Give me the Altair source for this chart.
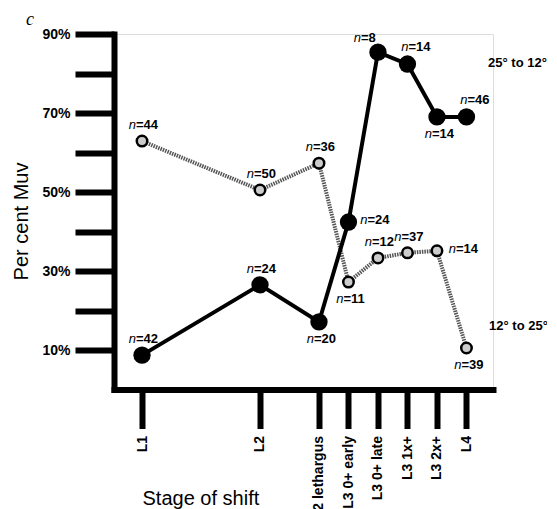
import json
import altair as alt
import pandas as pd

# ---- data ----
stages = ["L1", "L2", "L2 lethargus", "L3 0+ early", "L3 0+ late", "L3 1x+", "L3 2x+", "L4"]
stage_pos = [0, 4, 6, 7, 8, 9, 10, 11]          # developmental time-line position of each stage
series_names = ["25° to 12°", "12° to 25°"]

cold_pct = [8.7, 26.5, 17.1, 42.4, 85.4, 82.4, 69.0, 69.0]     # 25° to 12° (filled)
cold_n = [42, 24, 20, 24, 8, 14, 14, 46]
cold_place = ["above", "above", "below", "right", "aboveleft", "aboveright", "below", "aboveright"]

warm_pct = [62.9, 50.5, 57.3, 27.2, 33.3, 34.6, 35.1, 10.5]    # 12° to 25° (open)
warm_n = [44, 50, 36, 11, 12, 37, 14, 39]
warm_place = ["above", "above", "above", "below", "above", "above", "right", "below"]

y_ticks = [10, 20, 30, 40, 50, 60, 70, 80, 90]

rows = []
for name, pct, ns, pl in [(series_names[0], cold_pct, cold_n, cold_place),
                          (series_names[1], warm_pct, warm_n, warm_place)]:
    for s, p, v, n, q in zip(stages, stage_pos, pct, ns, pl):
        rows.append({"stage": s, "pos": p, "pct": v, "n": n, "eq": f"={n}",
                     "series": name, "place": q})
df = pd.DataFrame(rows)

FONT = "Liberation Sans"

xaxis = alt.Axis(
    values=stage_pos,
    labelExpr=f"{json.dumps(stages)}[indexof({json.dumps(stage_pos)}, datum.value)]",
    labelAngle=270, labelFont=FONT, labelFontSize=14, labelFontWeight="bold",
    labelColor="black", labelPadding=7, labelOverlap=False, labelFlush=False,
    tickSize=39, tickWidth=6, tickColor="black",
    domainColor="black", domainWidth=6, domainCap="square", grid=False,
    title="Stage of shift", titleFont=FONT, titleFontSize=20, titleFontWeight="normal",
    titleColor="black", titleX=28, titleY=114.5, titleAlign="left",
    titleBaseline="alphabetic",
)
yaxis = alt.Axis(
    values=y_ticks,
    labelExpr="datum.value % 20 == 10 ? datum.value + '%' : ''",
    labelFont=FONT, labelFontSize=14, labelFontWeight="bold", labelColor="black",
    labelPadding=5, tickSize=39, tickWidth=6, tickColor="black",
    domainColor="black", domainWidth=6, domainCap="square", grid=False,
    title="Per cent Muv", titleFont=FONT, titleFontSize=20, titleFontWeight="normal",
    titleColor="black", titleAngle=270, titleX=-93, titleY=187,
    titleAlign="center", titleBaseline="middle",
)

X = alt.X("pos:Q", scale=alt.Scale(domain=[-0.95, 11.9], nice=False, zero=False), axis=xaxis)
Y = alt.Y("pct:Q", scale=alt.Scale(domain=[0, 90], nice=False, zero=False), axis=yaxis)

base = alt.Chart(df).encode(x=X, y=Y)
cold = base.transform_filter(alt.datum.series == series_names[0])
warm = base.transform_filter(alt.datum.series == series_names[1])

layers = [
    warm.mark_line(color="#555555", strokeWidth=4, strokeDash=[1.5, 1]),
    cold.mark_line(color="black", strokeWidth=4),
    warm.mark_point(shape="circle", filled=True, fill="#cccccc", stroke="black",
                    strokeWidth=2.5, size=110, opacity=1),
    cold.mark_circle(color="black", size=300, opacity=1),
]

offsets = {"above": (-6, -16), "aboveright": (1, -17), "aboveleft": (-17, -14),
           "below": (-5, 17), "right": (19, -2)}
for place, (dx, dy) in offsets.items():
    sub = base.transform_filter(alt.datum.place == place)
    layers.append(sub.mark_text(align="right", baseline="middle", dx=dx, dy=dy, font=FONT,
                                fontSize=13, fontStyle="italic", color="black")
                  .encode(text=alt.value("n")))
    layers.append(sub.mark_text(align="left", baseline="middle", dx=dx, dy=dy, font=FONT,
                                fontSize=13, fontWeight="bold", color="black")
                  .encode(text="eq:N"))

last = stage_pos[-1]
layers.append(cold.transform_filter(alt.datum.pos == last)
              .mark_text(align="center", baseline="middle", dx=51, dy=-54, font=FONT,
                         fontSize=13, fontWeight="bold", color="black")
              .encode(text="series:N"))
layers.append(warm.transform_filter(alt.datum.pos == last)
              .mark_text(align="center", baseline="middle", dx=52, dy=-22, font=FONT,
                         fontSize=13, fontWeight="bold", color="black")
              .encode(text="series:N"))

chart = alt.layer(*layers).properties(
    width=379, height=355.5,
    autosize=alt.AutoSizeParams(type="none"),
    padding={"left": 106, "top": 26, "right": 54, "bottom": 119.5},
    title=alt.TitleParams("c", anchor="start", frame="group", font="Liberation Serif",
                          fontStyle="italic", fontSize=18, fontWeight="normal",
                          color="black", dx=-88, dy=6, offset=4),
).configure_view(stroke=None).configure(background="white")

chart.save("out.html", embed_options={"renderer": "svg", "actions": False})
